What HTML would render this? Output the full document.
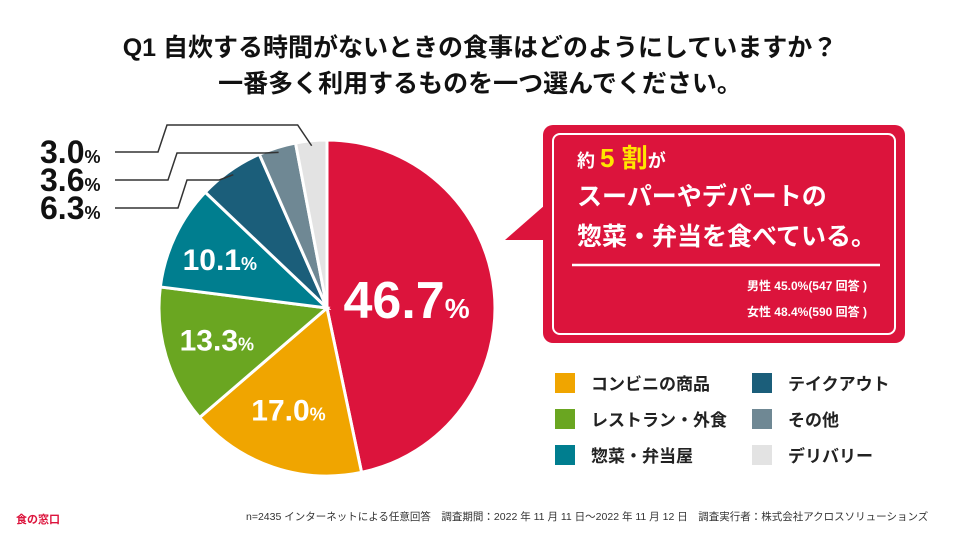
<!DOCTYPE html>
<html><head><meta charset="utf-8"><style>
body{margin:0;width:960px;height:540px;background:#fff;overflow:hidden;font-family:"Liberation Sans","Noto Sans CJK JP",sans-serif;}
.t{position:absolute;left:0;width:960px;text-align:center;font-weight:bold;font-size:25px;color:#111;}
</style></head><body>
<div class="t" style="top:28px">Q1 自炊する時間がないときの食事はどのようにしていますか？</div>
<div class="t" style="top:64px">一番多く利用するものを一つ選んでください。</div>
<svg id="chart" width="960" height="540" style="position:absolute;left:0;top:0"></svg>
<script>
const categories=["スーパーやデパートの惣菜・弁当","コンビニの商品","レストラン・外食","惣菜・弁当屋","テイクアウト","その他","デリバリー"];
const values=[46.7,17.0,13.3,10.1,6.3,3.6,3.0];
const colors=["#dc143c","#f0a500","#6aa621","#007e8f","#1b5e7a","#6f8894","#e3e3e3"];
const legendCats=["コンビニの商品","レストラン・外食","惣菜・弁当屋","テイクアウト","その他","デリバリー"];
const NS="http://www.w3.org/2000/svg";
const svg=document.getElementById('chart');
const cx=327,cy=308,R=168;
function mk(t,a){const e=document.createElementNS(NS,t);for(const k in a)e.setAttribute(k,a[k]);svg.appendChild(e);return e;}
function pt(frac,r){const a=frac*2*Math.PI-Math.PI/2;return[cx+r*Math.cos(a),cy+r*Math.sin(a)];}
const total=values.reduce((a,b)=>a+b,0);
let acc=0;const mids=[];
values.forEach((v,i)=>{const s=acc/total,e=(acc+v)/total;acc+=v;mids.push((s+e)/2);
 const p0=pt(s,R),p1=pt(e,R);const large=(e-s)>0.5?1:0;
 const p=mk('path',{d:`M${cx},${cy}L${p0[0]},${p0[1]}A${R},${R} 0 ${large} 1 ${p1[0]},${p1[1]}Z`,fill:colors[i],stroke:'#fff','stroke-width':3});
 
 
});
const inside=[[0,0.5,52,28],[1,0.64,30,18],[2,0.66,30,18],[3,0.68,30,18]];
inside.forEach(([i,rf,fs,ps])=>{const p=pt(mids[i],R*rf);
 const t=mk('text',{x:p[0]-4,y:p[1]+fs*0.36,'text-anchor':'middle',fill:'#fff','font-weight':'bold','font-size':fs});
 
 
 t.innerHTML=values[i].toFixed(1)+`<tspan font-size="${ps}">%</tspan>`;});
const outs=[[6,152,125,158],[5,180,153,168],[4,208,180,178]];
outs.forEach(([i,ly,ty,bx],k)=>{const p=pt(mids[i],R*0.97);
 const l=mk('polyline',{points:`115,${ly} ${bx},${ly} ${bx+9},${ty} ${p[0]-14},${ty} ${p[0]},${p[1]}`,fill:'none',stroke:'#333','stroke-width':1.5});
 
 
 const t=mk('text',{x:40,y:ly+11,fill:'#111','font-weight':'bold','font-size':32});
 
 
 t.innerHTML=values[i].toFixed(1)+`<tspan font-size="18">%</tspan>`;});
legendCats.forEach((c,j)=>{const col=j<3?0:1,row=j%3;const x=col?752:555,y=373+row*36;
 const r=mk('rect',{x:x,y:y,width:20,height:20,fill:colors[j+1]});
 
 
 const t=mk('text',{x:x+36,y:y+17,'font-size':17,'font-weight':'bold',fill:'#222'});
 
 
 t.textContent=c;});
</script>
<svg width="960" height="540" style="position:absolute;left:0;top:0;pointer-events:none">
<path d="M505,240 L545,205 L545,240 Z" fill="#dc143c"/>
<rect x="543" y="125" width="362" height="218" rx="10" fill="#dc143c"/>
<rect x="553" y="134" width="342" height="200" rx="7" fill="none" stroke="#fff" stroke-width="2"/>
<line x1="572" y1="265" x2="880" y2="265" stroke="#fff" stroke-width="2.5"/>
<text x="577" y="167" fill="#fff" font-weight="bold" font-size="18">約 <tspan fill="#ffe600" font-size="26">5 割</tspan>が</text>
<text x="577" y="205" fill="#fff" font-weight="bold" font-size="25">スーパーやデパートの</text>
<text x="577" y="245" fill="#fff" font-weight="bold" font-size="25">惣菜・弁当を食べている。</text>
<text x="867" y="290" fill="#fff" font-weight="bold" font-size="12" text-anchor="end">男性 45.0%(547 回答 )</text>
<text x="867" y="316" fill="#fff" font-weight="bold" font-size="12" text-anchor="end">女性 48.4%(590 回答 )</text>
<text x="16" y="523" fill="#dc143c" font-weight="bold" font-size="11">食の窓口</text>
<text x="246" y="520" fill="#333" font-size="10.5">n=2435 インターネットによる任意回答　調査期間：2022 年 11 月 11 日～2022 年 11 月 12 日　調査実行者：株式会社アクロスソリューションズ</text>
</svg>
</body></html>
